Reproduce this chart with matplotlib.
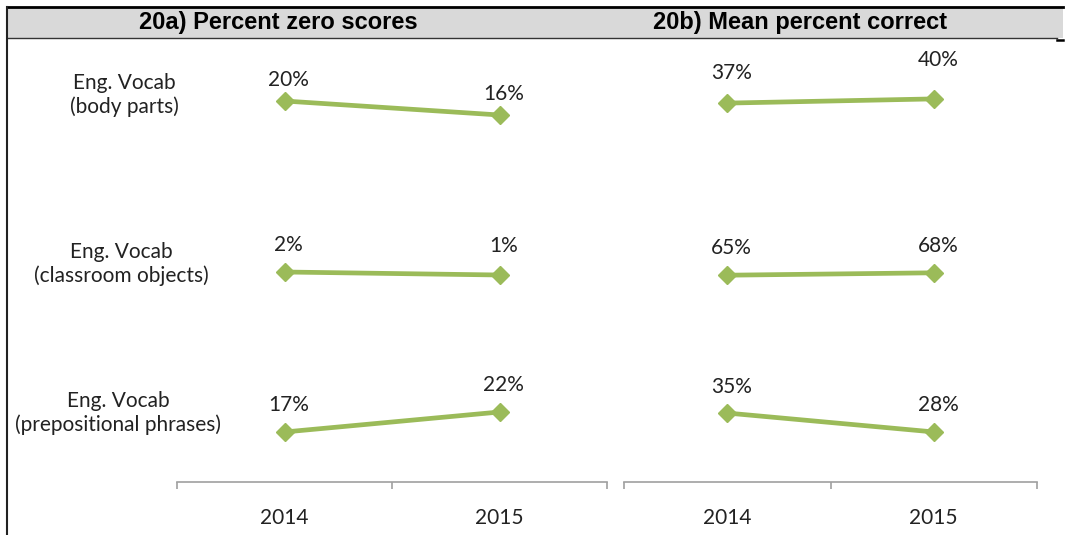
import matplotlib
matplotlib.use("Agg")
import matplotlib.pyplot as plt
from matplotlib.lines import Line2D
from matplotlib.patches import Rectangle

# ---------------- data ----------------
years = ["2014", "2015"]
row_labels = ["Eng. Vocab\n(body parts)",
              "Eng. Vocab\n(classroom objects)",
              "Eng. Vocab\n(prepositional phrases)"]
panel_titles = ["20a) Percent zero scores", "20b) Mean percent correct"]
zero_scores = [[20, 16], [2, 1], [17, 22]]
mean_correct = [[37, 40], [65, 68], [35, 28]]

# ---------------- layout (pixels) ----------------
W, H = 1065, 535
fig = plt.figure(figsize=(W / 100, H / 100), dpi=100)

def box(x0, y0, x1, y1):
    """pixel box (top-left origin) -> figure fraction rect"""
    return [x0 / W, 1 - y1 / H, (x1 - x0) / W, (y1 - y0) / H]

def fx(x):
    return x / W

def fy(y):
    return 1 - y / H

GREEN = "#9BBB59"
TXT = "#222222"
LBL_FONT = ["Lato", "DejaVu Sans"]

panel_x = [(177, 607), (624, 1037)]
row_center = [[108, 273.5, 422], [101, 274, 422.5]]
px_per_unit = [[3.5, 3.0, 4.0], [1.4, 0.8, 2.7]]
label_gap = [[[21, 21], [27, 29], [27, 27]], [[30, 39], [27, 27], [26, 27]]]
half_band = 60

series = [zero_scores, mean_correct]
for p in range(2):
    x0, x1 = panel_x[p]
    for r in range(3):
        c = row_center[p][r]
        vals = series[p][r]
        ax = fig.add_axes(box(x0, c - half_band, x1, c + half_band))
        ax.set_axis_off()
        mid = sum(vals) / 2
        span = half_band / px_per_unit[p][r]
        ax.set_ylim(mid - span, mid + span)
        ax.set_xlim(-0.5, 1.5)
        xs = list(range(len(years)))
        ax.plot(xs, vals, color=GREEN, lw=3.4, marker="D", ms=9,
                mfc=GREEN, mec=GREEN, solid_capstyle="round", zorder=3)
        for i, v in enumerate(vals):
            ax.annotate(f"{v}%", (xs[i], v), xytext=(3, label_gap[p][r][i] * 0.72),
                        textcoords="offset points", ha="center", va="center",
                        fontsize=15, color=TXT, family=LBL_FONT)

    # category axis for the panel
    axx = fig.add_axes(box(x0, 440, x1, 482))
    axx.set_xlim(-0.5, 1.5)
    axx.set_ylim(0, 1)
    for s in ["left", "right", "top"]:
        axx.spines[s].set_visible(False)
    axx.spines["bottom"].set_color("#A0A0A0")
    axx.spines["bottom"].set_linewidth(1.2)
    axx.set_yticks([])
    axx.set_xticks([-0.5, 0.5, 1.5])
    axx.set_xticklabels([])
    axx.tick_params(axis="x", which="major", direction="out", length=5,
                    width=1.2, color="#A0A0A0")
    axx.set_xticks(range(len(years)), minor=True)
    axx.set_xticklabels(years, minor=True, fontsize=15, color=TXT, family=LBL_FONT)
    axx.tick_params(axis="x", which="minor", length=0, pad=19)
    axx.patch.set_alpha(0)

# row labels
row_label_y = [95, 264, 413]
row_label_x = [124, 121, 118]
for r, lab in enumerate(row_labels):
    fig.text(fx(row_label_x[r]), fy(row_label_y[r]), lab, ha="center", va="center",
             fontsize=15, color=TXT, family=LBL_FONT, linespacing=1.2)

# header band
fig.patches.append(Rectangle((fx(7), fy(38)), fx(1063) - fx(7), fy(7) - fy(38),
                             transform=fig.transFigure, facecolor="#D9D9D9",
                             edgecolor="none", zorder=0))
fig.lines.append(Line2D([fx(7), fx(1063)], [fy(7), fy(7)], transform=fig.transFigure,
                        color="black", lw=2.0))
fig.lines.append(Line2D([fx(7), fx(1057)], [fy(38), fy(38)], transform=fig.transFigure,
                        color="#333333", lw=1.0))
fig.lines.append(Line2D([fx(1057), fx(1063)], [fy(39.5), fy(39.5)],
                        transform=fig.transFigure, color="black", lw=1.8))
fig.lines.append(Line2D([fx(7), fx(7)], [fy(7), fy(535)], transform=fig.transFigure,
                        color="#222222", lw=1.5))

title_x = [278, 800]
for p in range(2):
    fig.text(fx(title_x[p]), fy(23), panel_titles[p], ha="center", va="center",
             fontsize=17, fontweight="bold", color="black",
             family=["Liberation Sans", "DejaVu Sans"])

fig.savefig("out.png", dpi=100)
